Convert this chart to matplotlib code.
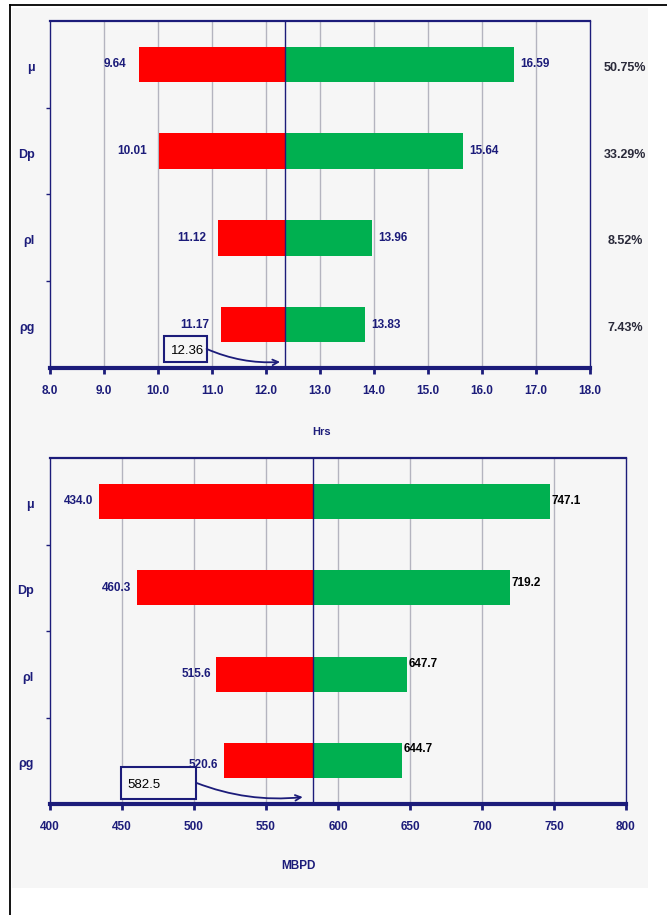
import numpy as np
import matplotlib.pyplot as plt
from matplotlib.patches import Rectangle
from matplotlib.lines import Line2D
import matplotlib.transforms as mtransforms

# data
params = ["μ", "Dp", "ρl", "ρg"]
hrs_low = [9.64, 10.01, 11.12, 11.17]
hrs_high = [16.59, 15.64, 13.96, 13.83]
hrs_base = 12.36
hrs_share = ["50.75%", "33.29%", "8.52%", "7.43%"]
hrs_ticks = [8.0, 9.0, 10.0, 11.0, 12.0, 13.0, 14.0, 15.0, 16.0, 17.0, 18.0]

mbpd_low = [434.0, 460.3, 515.6, 520.6]
mbpd_high = [747.1, 719.2, 647.7, 644.7]
mbpd_base = 582.5
mbpd_ticks = [400, 450, 500, 550, 600, 650, 700, 750, 800]

NAVY = "#1c1c7a"
RED = "#ff0000"
GREEN = "#00b050"
GRID = "#b4b4bf"
BG = "#f6f6f6"

plt.rcParams['font.family'] = ['Liberation Sans', 'DejaVu Sans']

fig = plt.figure(figsize=(6.67, 9.15), dpi=100)
fig.patch.set_facecolor("white")

# page background + scan frame
fig.patches.append(Rectangle((12/667, 1-888/915), (648-12)/667, (888-8)/915,
                             transform=fig.transFigure, facecolor=BG,
                             edgecolor="none", zorder=-10))
fig.lines.append(Line2D([10/667, 10/667], [0, 1-5/915], transform=fig.transFigure,
                        color="black", lw=1.3))
fig.lines.append(Line2D([10/667, 1], [1-5/915, 1-5/915], transform=fig.transFigure,
                        color="black", lw=1.3))


def tornado(ax, low, high, base, ticks, fmt, right_color, right_dy, left_dy,
            label_gap_l, label_gap_r):
    ypos = np.arange(len(params)) + 0.5
    h = 0.41
    ax.barh(ypos, [base - v for v in low], left=low, height=h, color=RED, zorder=3)
    ax.barh(ypos, [v - base for v in high], left=base, height=h, color=GREEN, zorder=3)
    ax.axvline(base, color=NAVY, lw=1.0, zorder=4)
    ax.set_xlim(ticks[0], ticks[-1])
    ax.set_ylim(len(params), 0)
    ax.set_xticks(ticks)
    ax.set_xticklabels([fmt.format(t) for t in ticks], color=NAVY,
                       fontsize=8.5, fontweight="bold")
    for t in ticks[1:-1]:
        ax.axvline(t, color=GRID, lw=1.0, zorder=1)
    ax.set_yticks(np.arange(1, len(params)))
    ax.set_yticklabels([])
    ax.tick_params(axis="y", length=3, color=NAVY, width=1)
    ax.tick_params(axis="x", length=4, color=NAVY, width=2, pad=8)
    for yl, nm in zip(ypos, params):
        ax.text(-0.028, yl + 0.04, nm, transform=mtransforms.blended_transform_factory(
            ax.transAxes, ax.transData), ha="right", va="center", color=NAVY,
            fontsize=9, fontweight="bold")
    vfmt = "{:.2f}" if base < 100 else "{:.1f}"
    for i, yl in enumerate(ypos):
        ax.text(low[i] - label_gap_l, yl + left_dy[i], vfmt.format(low[i]), ha="right",
                va="center", color=NAVY, fontsize=8.5, fontweight="bold")
        ax.text(high[i] + label_gap_r, yl + right_dy[i], vfmt.format(high[i]), ha="left",
                va="center", color=right_color, fontsize=8.5, fontweight="bold")
    ax.set_facecolor("none")
    for s in ["left", "right"]:
        ax.spines[s].set_color(NAVY)
        ax.spines[s].set_linewidth(1.0)
    ax.spines["top"].set_color(NAVY)
    ax.spines["top"].set_linewidth(1.6)
    ax.spines["bottom"].set_color(NAVY)
    ax.spines["bottom"].set_linewidth(3.0)
    return ypos


def base_box(ax, base, x0, x1, y0, y1, tx, fmt, arrow_end):
    ax.add_patch(Rectangle((x0, y0), x1 - x0, y1 - y0, facecolor=BG, edgecolor=NAVY,
                           lw=1.5, zorder=5))
    ax.text(tx, (y0 + y1) / 2 + 0.02, fmt.format(base), ha="left", va="center",
            fontsize=9.5, color="black", zorder=6)
    ax.annotate("", xy=arrow_end, xytext=(x1, (y0 + y1) / 2),
                arrowprops=dict(arrowstyle="->", color=NAVY, lw=1.3,
                                connectionstyle="arc3,rad=0.12",
                                shrinkA=0, shrinkB=0), zorder=5)


# top chart: hours
ax1 = fig.add_axes([50/667, 1-368/915, 540/667, 347/915])
yp = tornado(ax1, hrs_low, hrs_high, hrs_base, hrs_ticks, "{:.1f}", NAVY,
             [0, 0, 0, 0], [0, 0, 0, 0], 0.22, 0.12)
for yl, s in zip(yp, hrs_share):
    ax1.text(1.065, yl + 0.04, s, transform=mtransforms.blended_transform_factory(
        ax1.transAxes, ax1.transData), ha="center", va="center", color="#2a2a3a",
        fontsize=9, fontweight="bold")
base_box(ax1, hrs_base, hrs_base - 2.25, hrs_base - 1.46, 3.63, 3.93,
         hrs_base - 2.12, "{:.2f}", (hrs_base - 0.1, 3.93))
fig.text(322/667, 1-432/915, "Hrs", ha="center", va="center", color=NAVY,
         fontsize=8, fontweight="bold")

# bottom chart: MBPD
ax2 = fig.add_axes([50/667, 1-804/915, 576/667, 346/915])
tornado(ax2, mbpd_low, mbpd_high, mbpd_base, mbpd_ticks, "{:d}", "black",
        [0, -0.05, -0.12, -0.14], [0, 0, 0, 0.05], 4, 1)
base_box(ax2, mbpd_base, mbpd_base - 133, mbpd_base - 81, 3.57, 3.94,
         mbpd_base - 129, "{:.1f}", (mbpd_base - 7, 3.92))
fig.text(298/667, 1-866/915, "MBPD", ha="center", va="center", color=NAVY,
         fontsize=8.5, fontweight="bold")

fig.savefig("out.png", dpi=100, facecolor="white")
